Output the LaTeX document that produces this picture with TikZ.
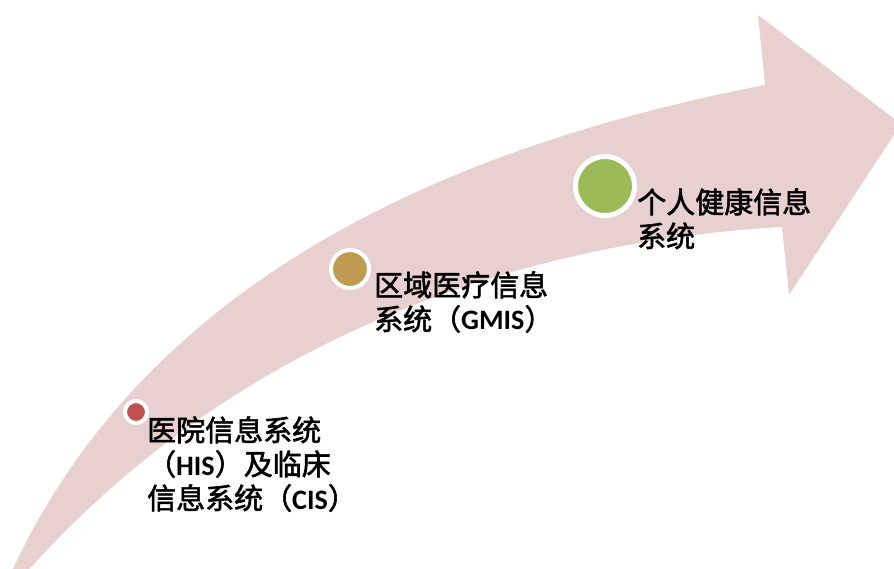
\documentclass[tikz,border=0pt]{standalone}
\usepackage{fontspec}
\setmainfont{Carlito}
\newfontfamily\cjk[FakeBold=2]{Noto Sans CJK SC}
\newfontfamily\latfont[Scale=0.97]{Carlito}
\newcommand\lat[1]{{\latfont\bfseries #1}}
\definecolor{arrowpink}{HTML}{E8D0D1}
\definecolor{dotred}{HTML}{C0504D}
\definecolor{dotgold}{HTML}{BF9B52}
\definecolor{dotgreen}{HTML}{9BBB59}
\tikzset{
  dotmark/.style={circle,draw=white,inner sep=0pt},
  label text/.style={anchor=base west,inner sep=0pt,align=left,
    font=\cjk\fontsize{29}{34}\selectfont,text=black}
}
\begin{document}
\begin{tikzpicture}[x=1pt,y=-1pt]
\useasboundingbox (0,0) rectangle (894,569);
\begin{scope}
\clip (0,0) rectangle (894,569);
\fill[arrowpink] (10,575) .. controls (140,290) and (430,150) .. (765,85)
  -- (758,15) -- (901,124) -- (789,295) -- (782,227)
  .. controls (550,240) and (250,320) .. (24,575) -- cycle;
\end{scope}
\node[dotmark,fill=dotred,minimum size=22pt,line width=4pt] (d1) at (136,412) {};
\node[dotmark,fill=dotgold,minimum size=38pt,line width=4pt] (d2) at (350,269) {};
\node[dotmark,fill=dotgreen,minimum size=59pt,line width=5pt] (d3) at (605,186) {};
% base anchor of a multi-line node is the baseline of its last line
\node[label text] (t1) at (147,509) {医院信息系统\\（\lat{HIS}）及临床\\信息系统（\lat{CIS}）};
\node[label text] (t2) at (374,330) {区域医疗信息\\系统（\lat{GMIS}）};
\node[label text] (t3) at (637,247) {个人健康信息\\系统};
\end{tikzpicture}
\end{document}
